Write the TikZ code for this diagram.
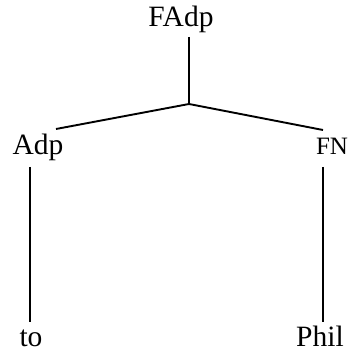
\documentclass[tikz,border=0pt]{standalone}
\usepackage{fontspec}
\setmainfont{Liberation Serif}
\begin{document}
\begin{tikzpicture}[x=1pt, y=-1pt, line width=1.9pt,
    lbl/.style={inner sep=0pt, anchor=base, font=\fontsize{29.5}{33}\selectfont},
    sml/.style={inner sep=0pt, anchor=base, font=\fontsize{25}{29}\selectfont}]
    \useasboundingbox (0, 0) rectangle (349, 352);
        \node[lbl] (fadp) at (181, 27) {FAdp};
        \node[lbl] (adp) at (38, 155) {Adp};
        \node[sml] (fn) at (332, 155) {FN};
        \node[lbl] (to) at (31, 346) {to};
        \node[lbl] (phil) at (320, 346) {Phil};
        \coordinate (j) at (189, 104);
        \coordinate (jtop) at (189, 37);
        \coordinate (adpup) at (56, 129);
        \coordinate (fnup) at (323, 130);
        \coordinate (adpdn) at (30, 167);
        \coordinate (todn) at (30, 322);
        \coordinate (fndn) at (323, 167);
        \coordinate (phildn) at (323, 322);
        \draw (jtop) -- (j);
        \draw (adpup) -- (j) -- (fnup);
        \draw (adpdn) -- (todn);
        \draw (fndn) -- (phildn);
    \end{tikzpicture}
\end{document}
